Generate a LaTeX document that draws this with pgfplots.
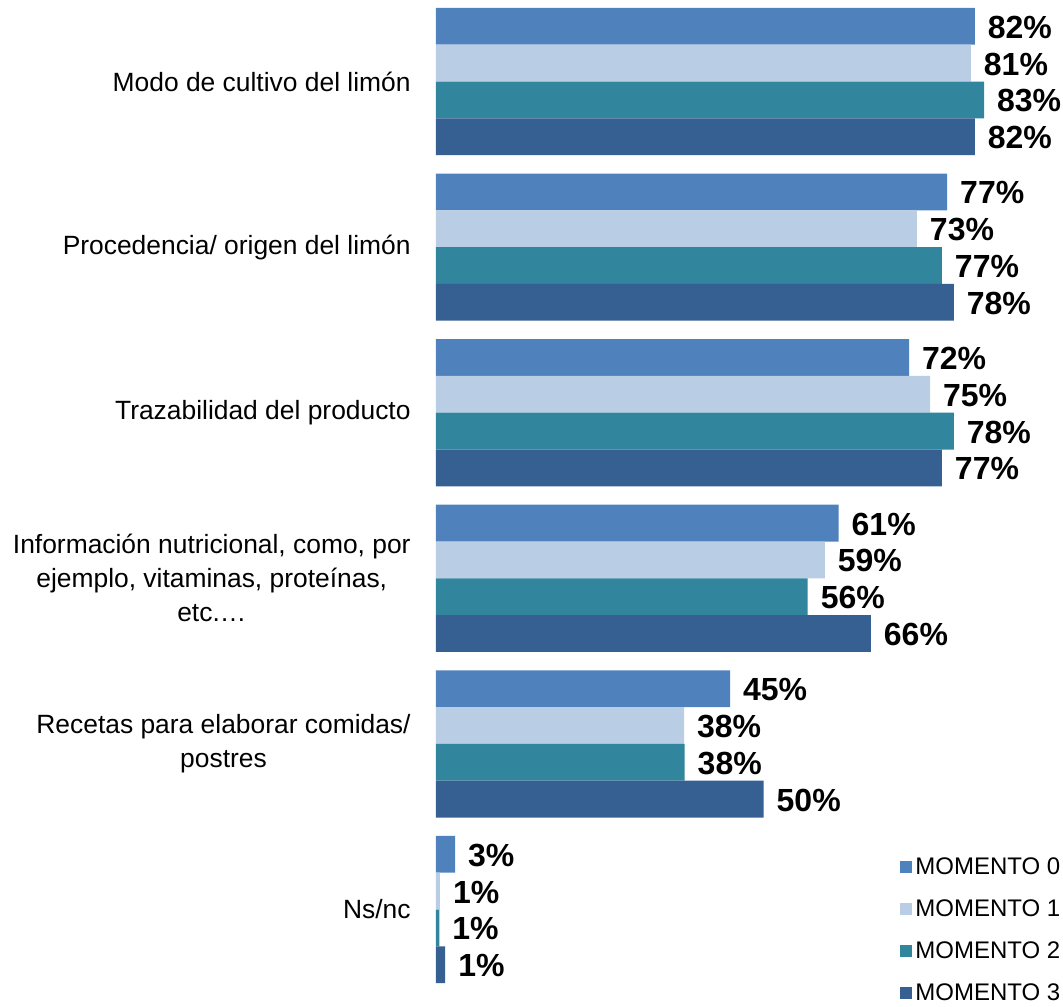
\documentclass[border=0pt]{standalone}
\usepackage{fontspec}
\setmainfont{Liberation Sans}
\usepackage{pgfplots}
\pgfplotsset{compat=1.18}
\definecolor{m0}{HTML}{4F81BD}
\definecolor{m1}{HTML}{B9CDE5}
\definecolor{m2}{HTML}{31859C}
\definecolor{m3}{HTML}{366092}
\begin{document}
\begin{tikzpicture}
\begin{axis}[
 at={(0,0)}, anchor=south west,
 scale only axis, width=312.5pt, height=496.8pt,
 xbar, bar width=18.4pt,
 xmin=0, xmax=95, ymin=-0.5, ymax=5.5,
 enlargelimits=false,
 axis line style={draw=none},
 xtick=\empty,
 ytick={0,1,2,3,4,5},
 yticklabels={Ns/nc,{Recetas para elaborar comidas/\\postres},{Información nutricional, como, por\\ejemplo, vitaminas, proteínas,\\etc.…},Trazabilidad del producto,Procedencia/ origen del limón,Modo de cultivo del limón},
 major tick length=0pt,
 tick style={draw=none},
 yticklabel style={align=center, inner sep=0pt, font=\fontsize{13.2}{17}\selectfont},
 yticklabel shift=12.5pt,
 /pgf/number format/assume math mode=true,
 point meta=explicit,
 nodes near coords={\pgfmathprintnumber{\pgfplotspointmeta}\%},
 nodes near coords align={horizontal},
 every node near coord/.append style={anchor=west, font=\fontsize{16}{18}\selectfont\bfseries, xshift=3pt, yshift=-0.5pt, text=black},
 legend style={at={(rel axis cs:0.7424,0.139)}, anchor=north west, draw=none, fill=none, inner sep=0pt, row sep=8.1pt, font=\fontsize{12}{14}\selectfont, nodes={inner sep=1.5pt}},
 legend image code/.code={\fill[#1] (0pt,-3pt) rectangle (6pt,3pt);},
 legend cell align=left,
]
\addplot[fill=m0, draw=none, bar shift=27.6pt] coordinates {(81.9,5) [82] (77.7,4) [77] (71.9,3) [72] (61.2,2) [61] (44.7,1) [45] (2.9,0) [3]};
\addplot[fill=m1, draw=none, bar shift=9.2pt] coordinates {(81.3,5) [81] (73.1,4) [73] (75.1,3) [75] (59.1,2) [59] (37.7,1) [38] (0.6,0) [1]};
\addplot[fill=m2, draw=none, bar shift=-9.2pt] coordinates {(83.3,5) [83] (76.9,4) [77] (78.7,3) [78] (56.5,2) [56] (37.8,1) [38] (0.5,0) [1]};
\addplot[fill=m3, draw=none, bar shift=-27.6pt] coordinates {(81.9,5) [82] (78.7,4) [78] (76.9,3) [77] (66.1,2) [66] (49.8,1) [50] (1.4,0) [1]};
\legend{MOMENTO 0,MOMENTO 1,MOMENTO 2,MOMENTO 3}
\end{axis}
\pgfresetboundingbox
\path[use as bounding box] (-218pt,-6.85pt) rectangle (313.5pt,496.15pt);
\end{tikzpicture}
\end{document}
